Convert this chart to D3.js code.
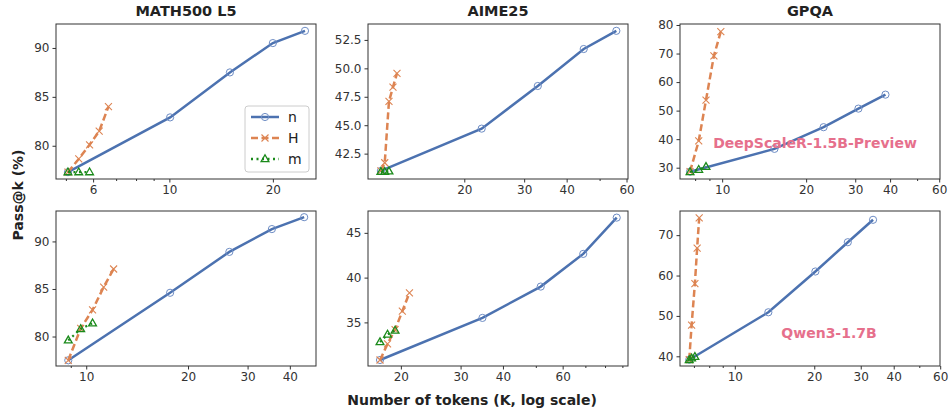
<!DOCTYPE html>
<html>
<head>
<meta charset="utf-8">
<script src="https://cdn.jsdelivr.net/npm/d3@7"></script>
<style>
  body { margin: 0; background: #fff; }
  svg text { font-family: "DejaVu Sans", sans-serif; }
</style>
</head>
<body>
<svg id="chart" width="950" height="412"></svg>
<script>
// token counts (K) and pass@k (%), one [x, y] list per series
const math500_n = [[5.07, 77.3], [10.05, 82.9], [15.0, 87.5], [20.0, 90.5], [24.8, 91.75]]
const math500_H = [[5.07, 77.3], [5.45, 78.65], [5.86, 80.1], [6.25, 81.5], [6.65, 84.0]]
const math500_m = [[5.07, 77.3], [5.45, 77.3], [5.86, 77.3]]

const aime_n = [[11.37, 40.98], [22.5, 44.7], [32.9, 48.45], [44.9, 51.7], [56.0, 53.3]]
const aime_H = [[11.37, 40.98], [11.67, 41.7], [12.01, 47.1], [12.34, 48.35], [12.68, 49.55]]
const aime_m = [[11.37, 40.9], [11.67, 40.9], [12.01, 40.95]]

const gpqa_n = [[7.67, 28.6], [15.4, 36.6], [23.1, 44.2], [30.8, 50.7], [38.5, 55.6]]
const gpqa_H = [[7.67, 28.6], [8.24, 39.4], [8.75, 53.7], [9.34, 69.2], [9.89, 77.7]]
const gpqa_m = [[7.67, 28.5], [8.24, 29.3], [8.75, 30.3]]

const math500q_n = [[8.85, 77.5], [17.7, 84.6], [26.5, 88.9], [35.4, 91.3], [44.1, 92.55]]
const math500q_H = [[8.85, 77.5], [9.63, 80.85], [10.44, 82.8], [11.26, 85.2], [12.05, 87.1]]
const math500q_m = [[8.85, 79.6], [9.63, 80.8], [10.44, 81.4]]

const aimeq_n = [[17.36, 30.8], [34.8, 35.5], [51.7, 39.0], [69.0, 42.65], [86.6, 46.7]]
const aimeq_H = [[17.36, 30.8], [18.27, 32.6], [19.23, 34.2], [20.2, 36.25], [21.2, 38.3]]
const aimeq_m = [[17.36, 32.8], [18.27, 33.65], [19.23, 34.1]]

const gpqaq_n = [[6.72, 39.15], [13.4, 50.9], [20.2, 61.0], [26.8, 68.25], [33.4, 73.8]]
const gpqaq_H = [[6.72, 39.15], [6.86, 47.7], [7.06, 58.0], [7.2, 66.8], [7.33, 74.3]]
const gpqaq_m = [[6.72, 39.1], [6.86, 39.5], [7.06, 39.9]]

const titles = ['MATH500 L5', 'AIME25', 'GPQA']
const seriesNames = ['n', 'H', 'm']
const modelNames = ['DeepScaleR-1.5B-Preview', 'Qwen3-1.7B']

// axis ranges and ticks per panel
const xRanges = [[4.68, 26.7], [10.42, 60.6], [7.06, 60.4], [8.14, 47.8], [16.0, 93.5], [6.2, 59.9]]
const yRanges = [[76.6, 92.45], [40.27, 53.9], [26.04, 80.35], [76.9, 93.2], [30.13, 47.44], [37.6, 75.98]]
const xTicks = [[6, 10, 20], [20, 30, 40, 60], [10, 20, 30, 40, 60], [10, 20, 30, 40], [20, 30, 40, 60], [10, 20, 30, 40, 60]]
const xMinor = [[5, 7, 8, 9], [50], [8, 9, 50], [9], [50, 70, 80, 90], [7, 8, 9, 50]]
const yTicks = [[80, 85, 90], [42.5, 45, 47.5, 50, 52.5], [30, 40, 50, 60, 70, 80], [80, 85, 90], [35, 40, 45], [40, 50, 60, 70]]

const colors = {n: '#4c72b0', H: '#dd8452', m: '#1a8a1a'}
const noteColor = '#e6708c'

let svg = d3.select('#chart')

let panels = [
    [math500_n, math500_H, math500_m],
    [aime_n, aime_H, aime_m],
    [gpqa_n, gpqa_H, gpqa_m],
    [math500q_n, math500q_H, math500q_m],
    [aimeq_n, aimeq_H, aimeq_m],
    [gpqaq_n, gpqaq_H, gpqaq_m],
]

let colLeft = [56, 368, 680]
let rowTop = [24, 211]
let pw = 260, ph = 155

panels.forEach((data, i) => {
    let col = i % 3, row = Math.floor(i / 3)
    let g = svg.append('g').attr('transform', `translate(${colLeft[col]},${rowTop[row]})`)

    let x = d3.scaleLog().domain(xRanges[i]).range([0, pw])
    let y = d3.scaleLinear().domain(yRanges[i]).range([ph, 0])

    let fmtY = i === 1 ? d3.format('.1f') : d3.format('d')

    let xa = g.append('g').attr('transform', `translate(0,${ph})`)
        .call(d3.axisBottom(x).tickValues(xTicks[i]).tickFormat(d3.format('d')).tickSize(3.5).tickPadding(3))
    let xm = g.append('g').attr('transform', `translate(0,${ph})`)
        .call(d3.axisBottom(x).tickValues(xMinor[i]).tickFormat('').tickSize(2))
    let ya = g.append('g')
        .call(d3.axisLeft(y).tickValues(yTicks[i]).tickFormat(fmtY).tickSize(3.5).tickPadding(3))

    ;[xa, xm, ya].forEach(a => {
        a.select('.domain').remove()
        a.selectAll('line').attr('stroke', '#333')
        a.selectAll('text').attr('fill', '#333').style('font-size', '12px')
    })

    let clip = 'clip' + i
    g.append('clipPath').attr('id', clip).append('rect').attr('width', pw).attr('height', ph)
    let plot = g.append('g').attr('clip-path', `url(#${clip})`)

    let line = d3.line().x(d => x(d[0])).y(d => y(d[1]))

    // n: solid with open circles
    plot.append('path').datum(data[0]).attr('d', line)
        .attr('fill', 'none').attr('stroke', colors.n).attr('stroke-width', 2.5)
    plot.selectAll('.c').data(data[0]).enter().append('circle')
        .attr('cx', d => x(d[0])).attr('cy', d => y(d[1])).attr('r', 3.6)
        .attr('fill', 'none').attr('stroke', '#6d8cc4').attr('stroke-width', 1)

    // H: dashed with x markers
    plot.append('path').datum(data[1]).attr('d', line)
        .attr('fill', 'none').attr('stroke', colors.H).attr('stroke-width', 2.5)
        .attr('stroke-dasharray', '7,3.5')
    plot.selectAll('.x').data(data[1]).enter().append('path')
        .attr('transform', d => `translate(${x(d[0])},${y(d[1])})`)
        .attr('d', 'M-3.5,-3.5L3.5,3.5M-3.5,3.5L3.5,-3.5')
        .attr('stroke', colors.H).attr('stroke-width', 1.1)

    // m: dotted with open triangles
    plot.append('path').datum(data[2]).attr('d', line)
        .attr('fill', 'none').attr('stroke', colors.m).attr('stroke-width', 2.2)
        .attr('stroke-dasharray', '2,3.5')
    plot.selectAll('.t').data(data[2]).enter().append('path')
        .attr('transform', d => `translate(${x(d[0])},${y(d[1])})`)
        .attr('d', 'M0,-4.2L3.9,2.6L-3.9,2.6Z')
        .attr('fill', 'none').attr('stroke', colors.m).attr('stroke-width', 1.3)

    g.append('rect').attr('width', pw).attr('height', ph)
        .attr('fill', 'none').attr('stroke', '#333').attr('stroke-width', 1)

    if (row === 0) {
        g.append('text').attr('x', pw / 2).attr('y', -8).attr('text-anchor', 'middle')
            .style('font-size', '14.5px').style('font-weight', 'bold').attr('fill', '#222')
            .text(titles[col])
    }

    if (col === 2) {
        let pos = row === 0 ? [135, 124] : [149, 127]
        g.append('text').attr('x', pos[0]).attr('y', pos[1]).attr('text-anchor', 'middle')
            .style('font-size', '14px').style('font-weight', 'bold').attr('fill', noteColor)
            .text(modelNames[row])
    }

    if (i === 0) {
        let lg = g.append('g').attr('transform', 'translate(189,82)')
        lg.append('rect').attr('width', 64).attr('height', 66).attr('rx', 3)
            .attr('fill', '#fff').attr('fill-opacity', 0.85).attr('stroke', '#ccc')
        seriesNames.forEach((s, k) => {
            let yy = 11 + k * 21
            let it = lg.append('g').attr('transform', `translate(6,${yy})`)
            let dash = s === 'n' ? null : s === 'H' ? '7,3.5' : '2,3.5'
            it.append('line').attr('x1', 0).attr('x2', 28).attr('stroke', colors[s])
                .attr('stroke-width', 2.5).attr('stroke-dasharray', dash)
            if (s === 'n') it.append('circle').attr('cx', 14).attr('r', 3.6).attr('fill', 'none').attr('stroke', '#6d8cc4')
            if (s === 'H') it.append('path').attr('transform', 'translate(14,0)').attr('d', 'M-3.5,-3.5L3.5,3.5M-3.5,3.5L3.5,-3.5').attr('stroke', colors.H).attr('stroke-width', 1.1)
            if (s === 'm') it.append('path').attr('transform', 'translate(14,0)').attr('d', 'M0,-4.2L3.9,2.6L-3.9,2.6Z').attr('fill', 'none').attr('stroke', colors.m).attr('stroke-width', 1.3)
            it.append('text').attr('x', 37).attr('y', 5).style('font-size', '14px').attr('fill', '#222').text(s)
        })
    }
})

svg.append('text').attr('transform', 'translate(23,195) rotate(-90)').attr('text-anchor', 'middle')
    .style('font-size', '14px').style('font-weight', 'bold').attr('fill', '#222').text('Pass@k (%)')

svg.append('text').attr('x', 472).attr('y', 405).attr('text-anchor', 'middle')
    .style('font-size', '14px').style('font-weight', 'bold').attr('fill', '#222').text('Number of tokens (K, log scale)')
</script>
</body>
</html>
